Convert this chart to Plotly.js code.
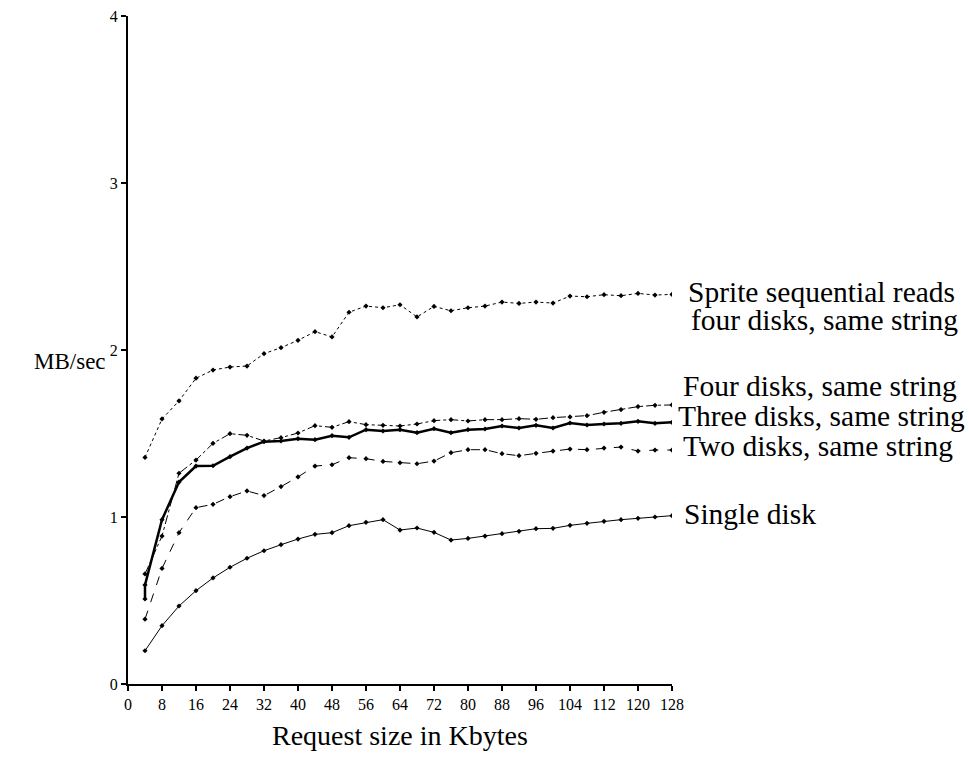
<!DOCTYPE html>
<html>
<head>
<meta charset="utf-8">
<script src="https://cdn.plot.ly/plotly-3.0.1.min.js"></script>
<style>html,body{margin:0;padding:0;background:#fff;}#chart{width:969px;height:759px;}</style>
</head>
<body>
<div id="chart"></div>
<script>
const requestSizes = [4,8,12,16,20,24,28,32,36,40,44,48,52,56,60,64,68,72,76,80,84,88,92,96,100,104,108,112,116,120,124,128];

const spriteReads = [1.357,1.587,1.695,1.831,1.880,1.898,1.904,1.978,2.014,2.058,2.110,2.078,2.226,2.263,2.253,2.271,2.198,2.261,2.235,2.253,2.263,2.287,2.279,2.287,2.281,2.323,2.319,2.331,2.325,2.339,2.329,2.333];
const fourDisks = [0.659,0.886,1.262,1.341,1.441,1.499,1.489,1.455,1.475,1.503,1.547,1.537,1.571,1.553,1.549,1.545,1.557,1.577,1.583,1.575,1.583,1.583,1.589,1.585,1.595,1.599,1.607,1.627,1.643,1.661,1.669,1.671];
const threeDisksX = [4,4,8,12,16,20,24,28,32,36,40,44,48,52,56,60,64,68,72,76,80,84,88,92,96,100,104,108,112,116,120,124,128];
const threeDisks = [0.509,0.593,0.984,1.209,1.305,1.307,1.361,1.413,1.451,1.455,1.469,1.463,1.487,1.477,1.523,1.515,1.523,1.505,1.529,1.505,1.523,1.527,1.545,1.533,1.549,1.533,1.563,1.551,1.557,1.561,1.573,1.561,1.567];
const twoDisks = [0.388,0.692,0.906,1.056,1.076,1.122,1.156,1.128,1.182,1.240,1.305,1.313,1.355,1.349,1.333,1.325,1.319,1.335,1.385,1.403,1.403,1.379,1.367,1.381,1.395,1.407,1.403,1.413,1.419,1.395,1.401,1.401];
const singleDisk = [0.199,0.349,0.467,0.559,0.635,0.699,0.753,0.798,0.834,0.868,0.896,0.906,0.948,0.968,0.984,0.922,0.934,0.908,0.862,0.872,0.886,0.900,0.914,0.930,0.932,0.950,0.962,0.974,0.984,0.992,1.000,1.008];

const xTicks = [0,8,16,24,32,40,48,56,64,72,80,88,96,104,112,120,128];
const yTicks = [0,1,2,3,4];

const seriesLabels = [
  {text:'Sprite sequential reads', y:2.345, shift:14},
  {text:'four disks, same string', y:2.180, shift:17},
  {text:'Four disks, same string', y:1.784, shift:9},
  {text:'Three disks, same string', y:1.605, shift:4},
  {text:'Two disks, same string', y:1.425, shift:9},
  {text:'Single disk', y:1.018, shift:10}
];

const serif = 'Liberation Serif';
const mk = {symbol:'diamond', size:4, color:'#000'};
const traces = [
  {x:requestSizes, y:spriteReads, mode:'lines+markers', line:{color:'#000', width:1, dash:'dot'}, marker:mk},
  {x:requestSizes, y:fourDisks, mode:'lines+markers', line:{color:'#000', width:1, dash:'dashdot'}, marker:mk},
  {x:threeDisksX, y:threeDisks, mode:'lines+markers', line:{color:'#000', width:2.5}, marker:mk},
  {x:requestSizes, y:twoDisks, mode:'lines+markers', line:{color:'#000', width:1, dash:'dash'}, marker:mk},
  {x:requestSizes, y:singleDisk, mode:'lines+markers', line:{color:'#000', width:1}, marker:mk}
];

const annotations = seriesLabels.map(l => ({
  x:128, y:l.y, xref:'x', yref:'y', xanchor:'left', yanchor:'middle', xshift:l.shift,
  text:l.text, showarrow:false, font:{family:serif, size:29.5, color:'#000'}
}));
annotations.push({x:0, y:1.93, xref:'paper', yref:'y', xanchor:'center', yanchor:'middle', xshift:-58,
  text:'MB/sec', showarrow:false, font:{family:serif, size:23, color:'#000'}});
annotations.push({x:0.5, y:0, xref:'paper', yref:'paper', xanchor:'center', yanchor:'middle', yshift:-51,
  text:'Request size in Kbytes', showarrow:false, font:{family:serif, size:28, color:'#000'}});

const layout = {
  width:969, height:759,
  margin:{l:128, r:297, t:16, b:75},
  paper_bgcolor:'#fff', plot_bgcolor:'#fff',
  showlegend:false,
  font:{family:serif, color:'#000', size:16},
  xaxis:{range:[0,128], tickvals:xTicks, ticktext:xTicks.map(String), showgrid:false, zeroline:false,
    showline:true, linecolor:'#000', linewidth:2, ticks:'outside', ticklen:5, tickwidth:2, tickcolor:'#000',
    tickfont:{family:serif, size:16}},
  yaxis:{range:[0,4], tickvals:yTicks, ticktext:yTicks.map(String), showgrid:false, zeroline:false,
    showline:true, linecolor:'#000', linewidth:2, ticks:'outside', ticklen:5, tickwidth:2, tickcolor:'#000',
    tickfont:{family:serif, size:16}},
  annotations:annotations
};
Plotly.newPlot('chart', traces, layout, {displayModeBar:false, staticPlot:true});
</script>
</body>
</html>
